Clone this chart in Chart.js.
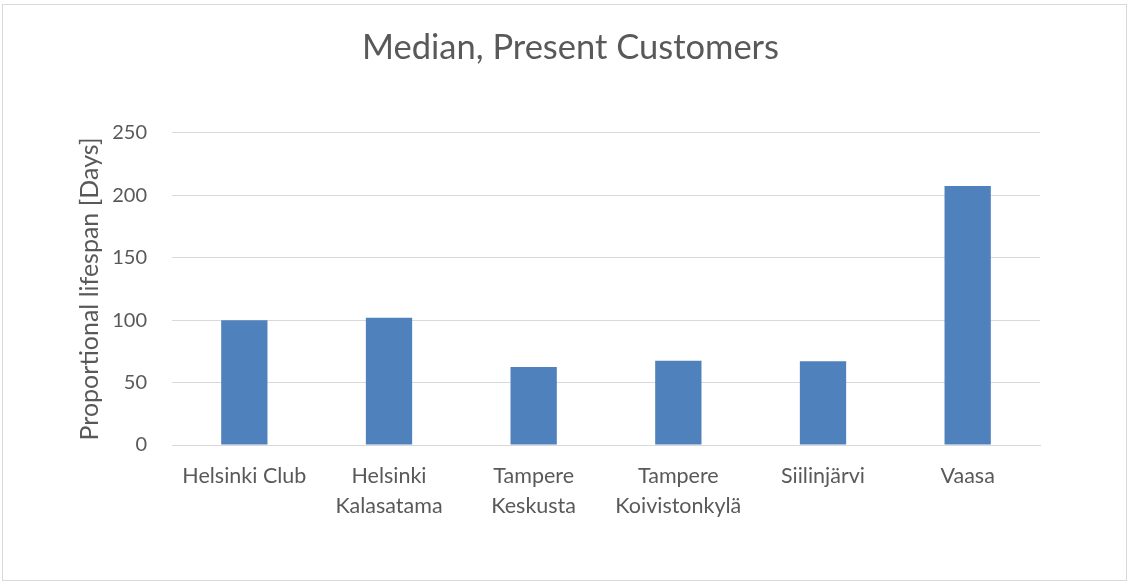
<!DOCTYPE html>
<html>
<head>
<meta charset="utf-8">
<script src="https://cdn.jsdelivr.net/npm/chart.js@4"></script>
<style>
html,body{margin:0;padding:0;background:#fff;}
#wrap{width:1130px;height:586px;}
</style>
</head>
<body>
<div id="wrap"><canvas id="c" width="1130" height="586"></canvas></div>
<script>
const chartTitle = "Median, Present Customers";
const yAxisTitle = "Proportional lifespan [Days]";
const categories = [
  "Helsinki Club",
  ["Helsinki", "Kalasatama"],
  ["Tampere", "Keskusta"],
  ["Tampere", "Koivistonkylä"],
  "Siilinjärvi",
  "Vaasa"
];
const medianDays = [100, 102, 62.5, 67.5, 67, 207.5];
const yTicks = [0, 50, 100, 150, 200, 250];

const FONT = "Lato, 'Open Sans', sans-serif";
const TEXT = "#595959";
const GRID = "#d9d9d9";

const frame = {
  id: 'frame',
  beforeDraw(chart) {
    const ctx = chart.ctx;
    ctx.save();
    ctx.fillStyle = '#fff';
    ctx.fillRect(0, 0, chart.width, chart.height);
    ctx.strokeStyle = GRID;
    ctx.lineWidth = 1;
    ctx.strokeRect(2.5, 4.5, 1124, 576);
    ctx.restore();
  }
};

new Chart(document.getElementById('c'), {
  type: 'bar',
  data: {
    labels: categories,
    datasets: [{
      label: chartTitle,
      data: medianDays,
      backgroundColor: '#4f81bd',
      borderWidth: 0,
      barPercentage: 0.32,
      categoryPercentage: 1.0
    }]
  },
  options: {
    responsive: false,
    animation: false,
    layout: { padding: { left: 11, right: 0, top: 0, bottom: 0 } },
    plugins: {
      legend: { display: false },
      tooltip: { enabled: false },
      title: {
        display: true,
        text: chartTitle,
        color: TEXT,
        font: { family: FONT, size: 34.5, weight: 'normal' },
        padding: { top: 27, bottom: 64.5 }
      }
    },
    scales: {
      x: {
        grid: { display: false, drawTicks: false },
        border: { display: true, color: GRID, width: 1 },
        ticks: {
          color: TEXT,
          font: { family: FONT, size: 21.5, lineHeight: 1.4 },
          padding: 16,
          maxRotation: 0,
          autoSkip: false
        },
        afterFit(scale) { scale.height = 141; }
      },
      y: {
        min: 0,
        max: 250,
        afterBuildTicks(scale) { scale.ticks = yTicks.map(v => ({ value: v })); },
        grid: { color: GRID, lineWidth: 1, drawTicks: false },
        border: { display: false },
        ticks: {
          color: TEXT,
          font: { family: FONT, size: 20 },
          padding: 25
        },
        title: {
          display: true,
          text: yAxisTitle,
          color: TEXT,
          font: { family: FONT, size: 25, weight: 'normal' },
          padding: { top: 64, bottom: 0 }
        },
        afterFit(scale) { scale.width = 161; }
      },
      yRight: {
        position: 'right',
        display: true,
        grid: { display: false, drawTicks: false },
        border: { display: false },
        ticks: { display: false },
        afterFit(scale) { scale.width = 90; }
      }
    }
  },
  plugins: [frame]
});
</script>
</body>
</html>
